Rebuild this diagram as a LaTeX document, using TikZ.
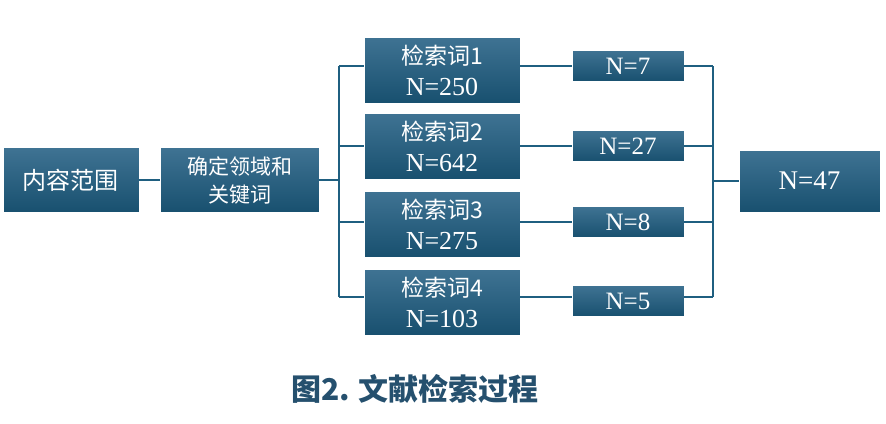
\documentclass[tikz,border=0pt]{standalone}
\usepackage{fontspec}
\setmainfont{Liberation Serif}
\newfontfamily\cjk{Noto Sans CJK SC}
\usetikzlibrary{positioning}
\definecolor{boxtop}{HTML}{3F7393}
\definecolor{boxbot}{HTML}{18506F}
\definecolor{linecol}{HTML}{1F5F80}
\definecolor{capcol}{HTML}{25506E}

\begin{document}
\begin{tikzpicture}[x=1pt,y=-1pt]
\tikzstyle{basenode}=[top color=boxtop, bottom color=boxbot, draw=boxbot!80!white, white, align=center, inner sep=0pt];
\tikzstyle{big}=[basenode, minimum width=136pt, minimum height=65pt, font=\cjk\fontsize{24}{26}\selectfont];
\tikzstyle{mid}=[basenode, minimum width=159pt, minimum height=65pt, font=\cjk\fontsize{21}{28}\selectfont];
\tikzstyle{term}=[basenode, minimum width=156pt, minimum height=66pt, font=\cjk\fontsize{23}{31}\selectfont];
\tikzstyle{hit}=[basenode, minimum width=112pt, minimum height=31pt, font=\fontsize{25}{26}\selectfont];
\tikzstyle{conn}=[linecol, line width=2.4pt];

\useasboundingbox (0,0) rectangle (886,423);

\node[big] (scope) at (71,180) {内容范围};
\node[mid] (field) at (239.5,180) {确定领域和\\关键词};

\node[term] (t1) at (442,70)  {检索词1\\{\rmfamily\fontsize{26}{28}\selectfont N=250}};
\node[term] (t2) at (442,146) {检索词2\\{\rmfamily\fontsize{26}{28}\selectfont N=642}};
\node[term] (t3) at (442,224) {检索词3\\{\rmfamily\fontsize{26}{28}\selectfont N=275}};
\node[term] (t4) at (442,302) {检索词4\\{\rmfamily\fontsize{26}{28}\selectfont N=103}};

\node[hit] (h1) at (628,66)  {N=7};
\node[hit] (h2) at (628,146) {N=27};
\node[hit] (h3) at (628,222) {N=8};
\node[hit] (h4) at (628,301) {N=5};

\node[basenode, minimum width=141pt, minimum height=62pt, font=\fontsize{27}{28}\selectfont] (total) at (809.5,181) {N=47};

\coordinate (split) at (339,180);
\coordinate (join) at (713,181);

\draw[conn] (scope) -- (field);
\draw[conn] (field) -- (split);
\foreach \i/\y in {1/66,2/146,3/222,4/297} {
  \draw[conn] (339,\y) -- (t\i.west |- 0,\y);
  \draw[conn] (t\i.east |- 0,\y) -- (h\i.west |- 0,\y);
  \draw[conn] (h\i.east |- 0,\y) -- (713,\y);
}
\draw[conn] (339,66) -- (339,297);
\draw[conn] (713,66) -- (713,297);
\draw[conn] (join) -- (total);

\node[capcol, font=\cjk\bfseries\fontsize{30}{32}\selectfont] (caption) at (415,389) {图2. 文献检索过程};
\end{tikzpicture}
\end{document}
